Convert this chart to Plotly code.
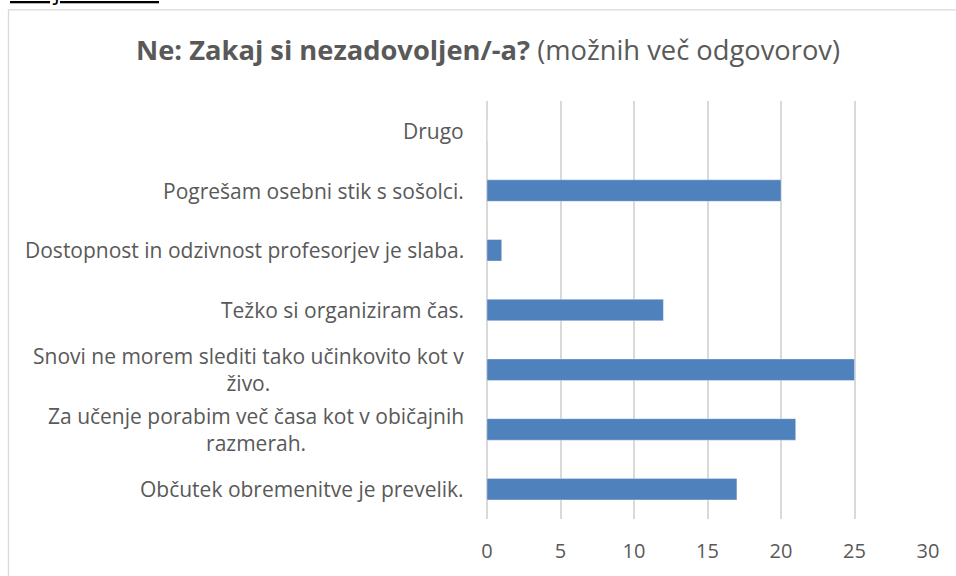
import plotly.graph_objects as go

# Survey answers, listed from the bottom bar to the top bar
categories = [
    "Občutek obremenitve je prevelik.",
    "Za učenje porabim več časa kot v običajnih<br>razmerah.",
    "Snovi ne morem slediti tako učinkovito kot v<br>živo.",
    "Težko si organiziram čas.",
    "Dostopnost in odzivnost profesorjev je slaba.",
    "Pogrešam osebni stik s sošolci.",
    "Drugo",
]
counts = [17, 21, 25, 12, 1, 20, 0]
x_ticks = [0, 5, 10, 15, 20, 25, 30]

FONT = "Open Sans"
TEXT = "#595959"
BAR = "#4F81BD"
GRID = "#D9D9D9"

W, H = 956, 576
L, R, T, B = 487, 28, 101, 55
pw, ph = W - L - R, H - T - B

def px_x(p):
    return (p - L) / pw

def px_y(p):
    return (H - B - p) / ph

ids = list(range(len(categories)))

fig = go.Figure()
fig.add_trace(go.Bar(
    x=counts, y=ids, orientation="h",
    width=0.36,
    marker=dict(color=BAR, line=dict(color="rgba(255,255,255,0.35)", width=1)),
    hoverinfo="x+y",
))

# Category labels, centred line by line and right-aligned against the plot
for i, lab in zip(ids, categories):
    fig.add_annotation(
        x=px_x(466), xref="paper", xanchor="right",
        y=i, yref="y", yanchor="middle",
        text=lab, showarrow=False, align="center",
        font=dict(family=FONT, size=21, color=TEXT),
    )

# Document heading above the chart frame
fig.add_annotation(
    x=px_x(8), xref="paper", xanchor="left",
    y=px_y(8), yref="paper", yanchor="bottom",
    text="<u>Strojni tehnik:</u>", showarrow=False,
    font=dict(family=FONT, size=23, color="#000000"),
)

# Chart frame
fig.add_shape(
    type="rect", xref="paper", yref="paper",
    x0=px_x(8.5), x1=px_x(W + 20), y0=px_y(9.5), y1=px_y(H + 20),
    line=dict(color="#D9D9D9", width=1.3), fillcolor="rgba(0,0,0,0)",
    layer="below",
)

fig.update_layout(
    width=W, height=H,
    margin=dict(l=L, r=R, t=T, b=B),
    paper_bgcolor="white", plot_bgcolor="white",
    showlegend=False,
    font=dict(family=FONT, color=TEXT),
    title=dict(
        text="<b>Ne: Zakaj si nezadovoljen/-a?</b> (možnih več odgovorov)",
        xref="container", x=488 / W, xanchor="center",
        yref="container", y=1 - 50 / H, yanchor="middle",
        font=dict(family=FONT, size=27.3, color=TEXT),
    ),
    xaxis=dict(
        range=[0, 30], tickvals=x_ticks,
        showgrid=True, gridcolor=GRID, gridwidth=1.5,
        zeroline=True, zerolinecolor=GRID, zerolinewidth=1.5,
        showline=False, ticks="",
        tickfont=dict(family=FONT, size=20, color=TEXT),
        ticklabelstandoff=18,
        fixedrange=True,
    ),
    yaxis=dict(
        range=[-0.5, len(categories) - 0.5],
        tickvals=ids, showticklabels=False,
        showgrid=False, zeroline=False, showline=False,
        fixedrange=True,
    ),
)

fig.write_html("out.html")
